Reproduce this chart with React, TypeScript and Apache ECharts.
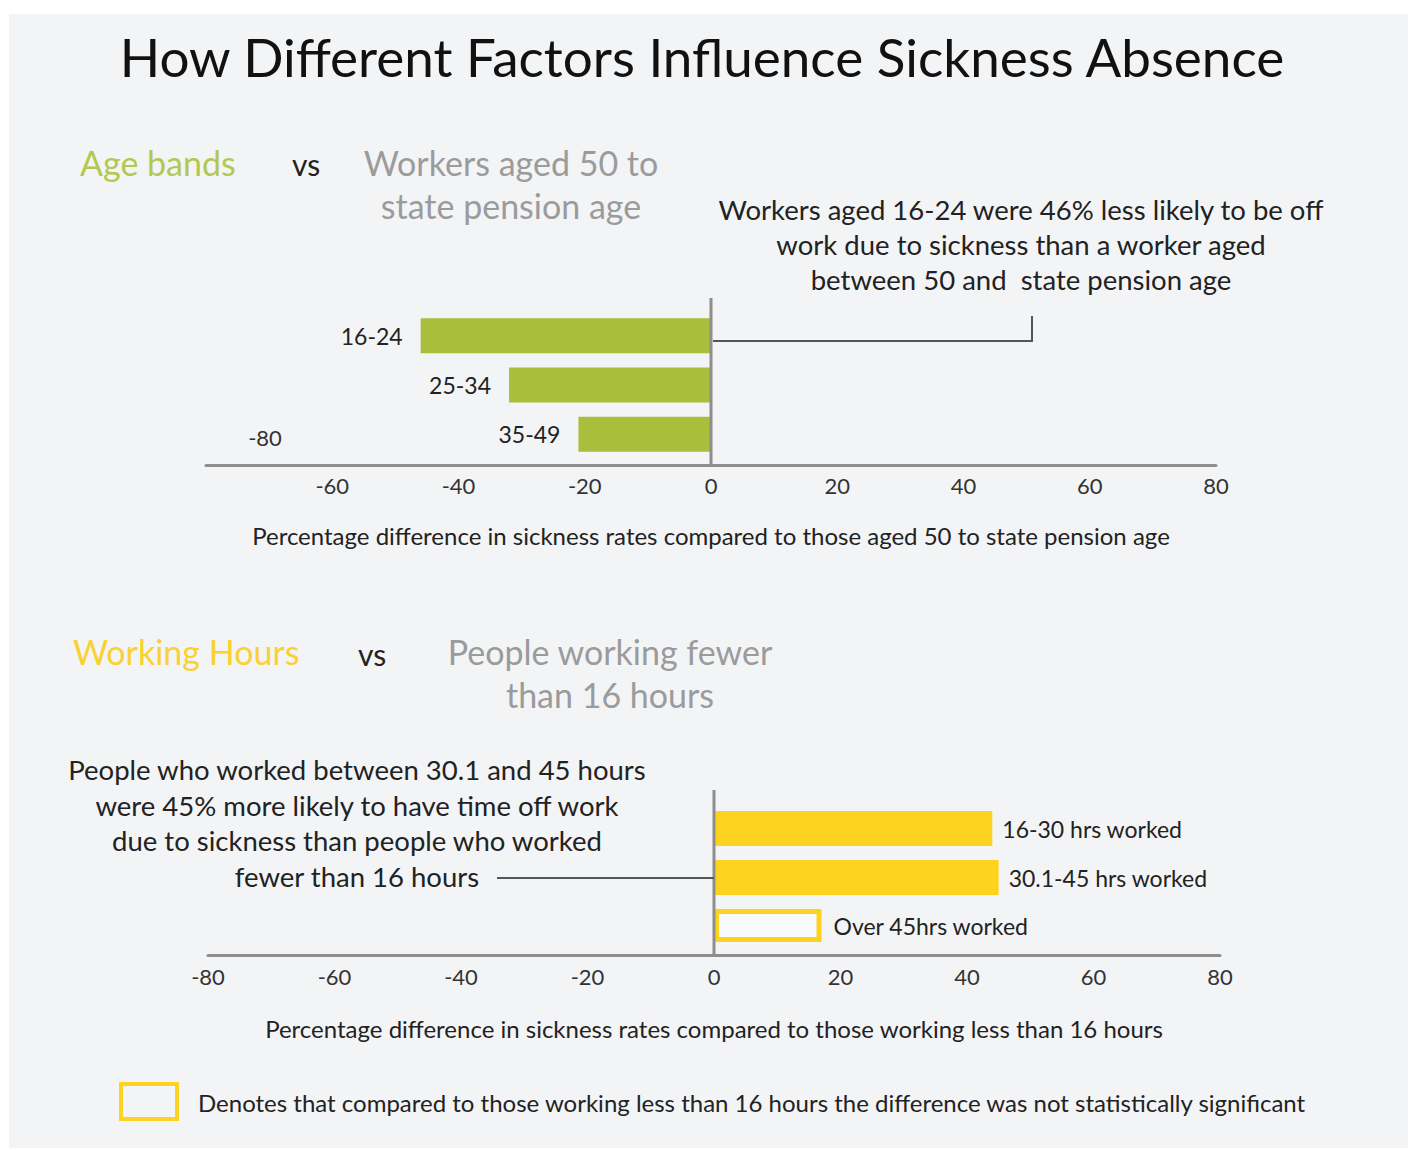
import React, { useEffect, useRef } from "react";
import * as echarts from "echarts";

const ageCategories = ["16-24", "25-34", "35-49"];
const ageValues = [-46, -32, -21];
const hoursCategories = ["16-30 hrs worked", "30.1-45 hrs worked", "Over 45hrs worked"];
const hoursValues = [44, 45, 17];
const hoursSignificant = [true, true, false];
const axisMin = -80;
const axisMax = 80;
const axisStep = 20;

const FONT = "Lato, 'Open Sans', sans-serif";
const GREEN = "#a9be3b";
const GREEN_TEXT = "#b3c84f";
const YELLOW = "#fdd31f";
const YELLOW_TEXT = "#f9d232";
const GREY_TEXT = "#9b9b9b";
const PANEL = "#f3f4f6";
const AXIS = "#8e8e8e";
const DARK = "#222";

function txt(text: string, x: number, y: number, size: number, fill: string, align = "left", lineHeight?: number) {
  return {
    type: "text",
    silent: true,
    style: {
      text,
      x,
      y,
      fontSize: size,
      fontFamily: FONT,
      fill,
      textAlign: align,
      textVerticalAlign: "middle",
      lineHeight: lineHeight || size * 1.2,
    },
    z: 10,
  };
}

export default function App() {
  const ref = useRef<HTMLDivElement>(null);
  useEffect(() => {
    document.body.style.margin = "0";
    const chart = echarts.init(ref.current!, null, { renderer: "svg" });

    const xAxisBase = (gridIndex: number, name: string, nameGap: number, offset: number, margin: number, hideMin: boolean) => ({
      type: "value",
      gridIndex,
      min: axisMin,
      max: axisMax,
      interval: axisStep,
      offset,
      axisLine: { show: true, onZero: false, lineStyle: { color: AXIS, width: 3 } },
      axisTick: { show: false },
      splitLine: { show: false },
      axisLabel: {
        fontSize: 22,
        fontFamily: FONT,
        color: "#333",
        margin,
        formatter: (v: number) => (hideMin && v === axisMin ? "" : String(v)),
      },
      name,
      nameLocation: "middle",
      nameGap,
      nameTextStyle: { fontSize: 24, fontFamily: FONT, color: DARK },
    });

    const filled = hoursValues.map((v, i) => (hoursSignificant[i] ? v : "-"));
    const outlined = hoursValues.map((v, i) => (hoursSignificant[i] ? "-" : v));

    const barLabel = (position: string, distance: number) => ({
      show: true,
      position,
      distance,
      formatter: "{b}",
      fontSize: 23,
      fontFamily: FONT,
      color: DARK,
    });

    chart.setOption({
      animation: false,
      backgroundColor: "#ffffff",
      grid: [
        { left: 206, width: 1010, top: 311, height: 148 },
        { left: 208, width: 1012, top: 803, height: 147 },
      ],
      xAxis: [
        xAxisBase(0, "Percentage difference in sickness rates compared to those aged 50 to state pension age", 58, 6, 9, true),
        xAxisBase(1, "Percentage difference in sickness rates compared to those working less than 16 hours", 61, 5, 10, false),
      ],
      yAxis: [
        { type: "category", gridIndex: 0, data: ageCategories, inverse: true, show: false },
        { type: "category", gridIndex: 1, data: hoursCategories, inverse: true, show: false },
      ],
      series: [
        {
          type: "bar",
          xAxisIndex: 0,
          yAxisIndex: 0,
          data: ageValues,
          barWidth: 35,
          itemStyle: { color: GREEN },
          label: barLabel("left", 18),
        },
        {
          type: "bar",
          xAxisIndex: 1,
          yAxisIndex: 1,
          data: filled,
          barWidth: 35,
          barGap: "-100%",
          itemStyle: { color: YELLOW },
          label: barLabel("right", 10),
        },
        {
          type: "bar",
          xAxisIndex: 1,
          yAxisIndex: 1,
          data: outlined,
          barWidth: 33,
          barGap: "-100%",
          itemStyle: { color: "#f8f9fb", borderColor: YELLOW, borderWidth: 5 },
          label: barLabel("right", 12),
        },
      ],
    });

    const z1 = chart.convertToPixel({ xAxisIndex: 0 }, 0) as number;
    const z2 = chart.convertToPixel({ xAxisIndex: 1 }, 0) as number;
    const m1 = chart.convertToPixel({ xAxisIndex: 0 }, axisMin) as number;

    chart.setOption({
      graphic: [
        {
          type: "rect",
          silent: true,
          z: -10,
          shape: { x: 9, y: 14, width: 1399, height: 1134 },
          style: { fill: PANEL },
        },
        txt("How Different Factors Influence Sickness Absence", 702, 56, 53, "#111", "center"),
        txt("Age bands", 80, 162, 34, GREEN_TEXT),
        txt("vs", 292, 164, 30, DARK),
        txt("Workers aged 50 to\nstate pension age", 511, 184, 34, GREY_TEXT, "center", 43),
        txt(
          "Workers aged 16-24 were 46% less likely to be off\nwork due to sickness than a worker aged\nbetween 50 and  state pension age",
          1021,
          244,
          27.5,
          DARK,
          "center",
          35
        ),
        txt("-80", m1 + 59, 437, 22, "#333", "center"),
        txt("Working Hours", 73, 651, 34, YELLOW_TEXT),
        txt("vs", 358, 654, 30, DARK),
        txt("People working fewer\nthan 16 hours", 610, 673, 34, GREY_TEXT, "center", 43),
        txt(
          "People who worked between 30.1 and 45 hours\nwere 45% more likely to have time off work\ndue to sickness than people who worked\nfewer than 16 hours",
          357,
          823,
          27.5,
          DARK,
          "center",
          35.5
        ),
        txt(
          "Denotes that compared to those working less than 16 hours the difference was not statistically significant",
          198,
          1102,
          24,
          DARK
        ),
        {
          type: "rect",
          silent: true,
          z: 10,
          shape: { x: 121, y: 1084, width: 56, height: 35 },
          style: { fill: "none", stroke: YELLOW, lineWidth: 4 },
        },
        {
          type: "line",
          silent: true,
          z: 10,
          shape: { x1: z1, y1: 298, x2: z1, y2: 465 },
          style: { stroke: AXIS, lineWidth: 3 },
        },
        {
          type: "line",
          silent: true,
          z: 10,
          shape: { x1: z2, y1: 790, x2: z2, y2: 955 },
          style: { stroke: AXIS, lineWidth: 3 },
        },
        {
          type: "polyline",
          silent: true,
          z: 10,
          shape: { points: [[z1 + 2, 341], [1032, 341], [1032, 316]] },
          style: { stroke: "#555", lineWidth: 2, fill: "none" },
        },
        {
          type: "line",
          silent: true,
          z: 10,
          shape: { x1: 497, y1: 878, x2: z2, y2: 878 },
          style: { stroke: "#555", lineWidth: 2 },
        },
      ],
    });

    return () => chart.dispose();
  }, []);
  return <div ref={ref} style={{ width: 1409, height: 1150 }} />;
}
